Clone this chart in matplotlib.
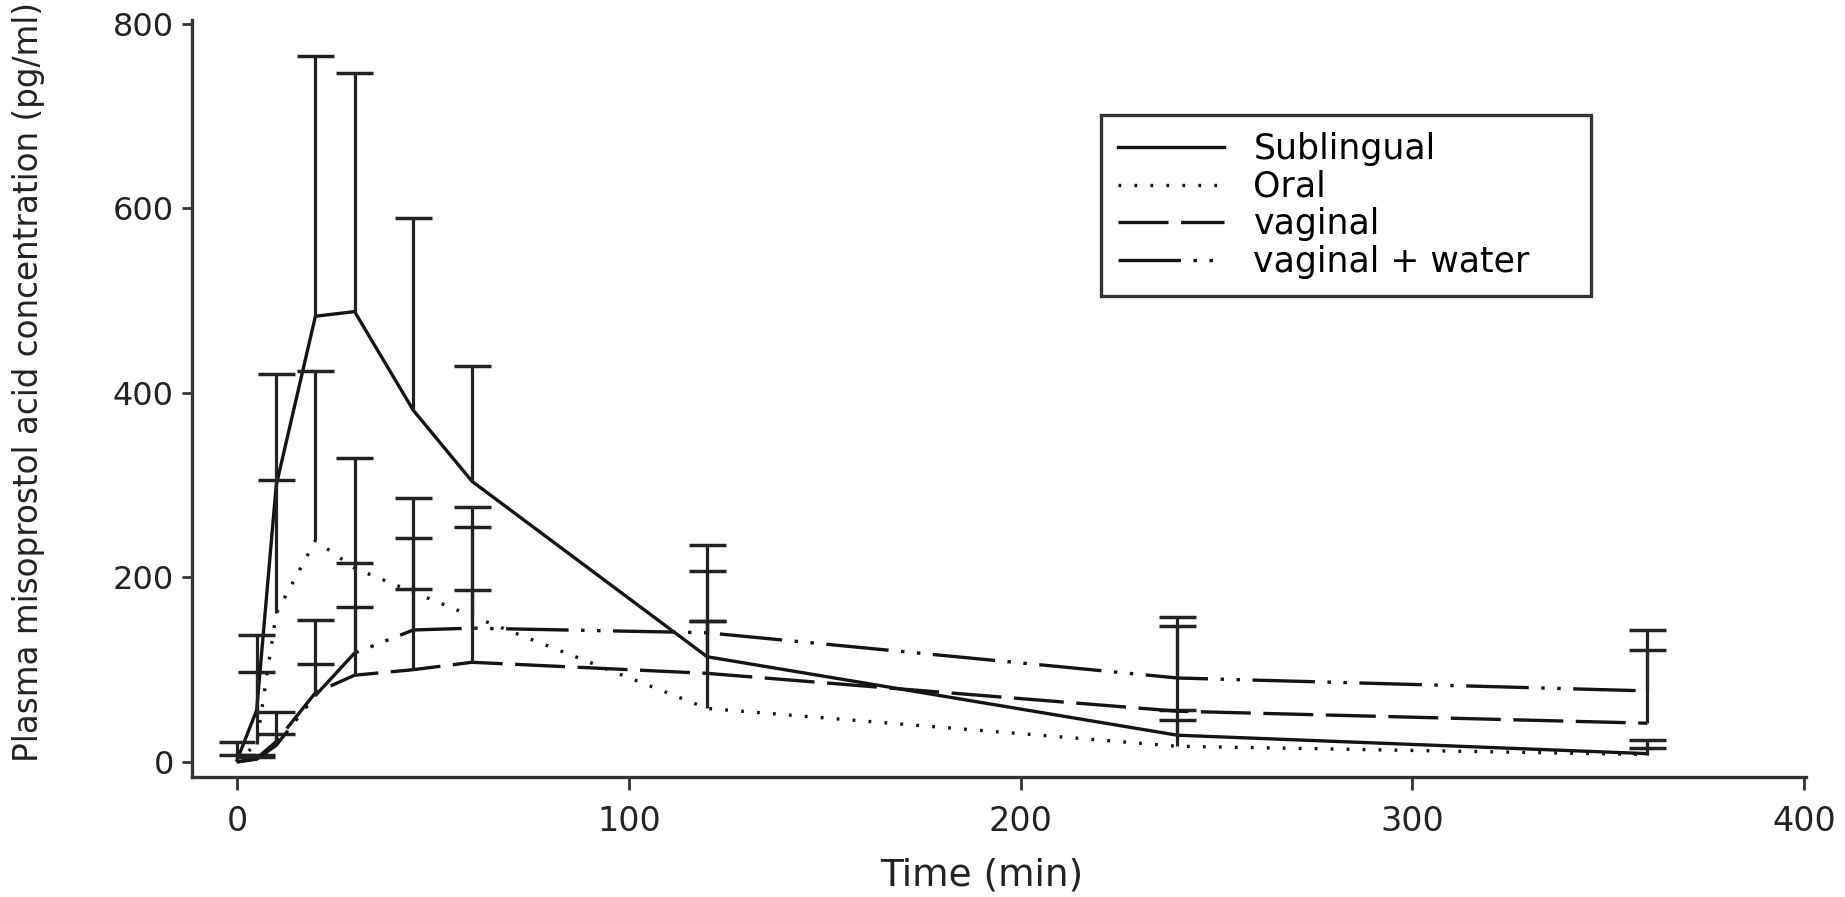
import numpy as np
import matplotlib
matplotlib.use("Agg")
import matplotlib.pyplot as plt

plt.rcParams['font.family'] = ['DejaVu Sans']
plt.rcParams['lines.scale_dashes'] = False

# sampling times (min)
times = [0, 5, 10, 20, 30, 45, 60, 120, 240, 360]

# mean plasma misoprostol acid (pg/ml) and mean + SD (top of error bar)
sublingual = [2, 56, 300, 483, 488, 381, 304, 114, 29, 9]
sublingual_top = [22, 138, 420, 765, 747, 589, 429, 207, 56, 24]
oral = [0, 20, 161, 240, 210, 184, 158, 58, 17, 8]
oral_top = [8, 98, 305, 424, 329, 286, 276, 153, 45, 15]
vaginal = [0, 4, 22, 75, 94, 100, 108, 96, 55, 42]
vaginal_top = [0, 8, 30, 106, 168, 187, 186, 153, 147, 121]
vag_water = [0, 3, 18, 72, 118, 143, 145, 140, 91, 77]
vag_water_top = [0, 5, 54, 154, 216, 243, 255, 235, 157, 143]

labels = ['Sublingual', 'Oral', 'vaginal', 'vaginal + water']
xticks = [0, 100, 200, 300, 400]
yticks = [0, 200, 400, 600, 800]

ink = '#141414'


def draw_bars(ax, t, mean, top):
    # upper error bars only (mean -> mean + SD)
    t = np.asarray(t, dtype=float)
    mean = np.asarray(mean, dtype=float)
    top = np.asarray(top, dtype=float)
    keep = top > mean
    cap = 4.7
    ax.vlines(t[keep], mean[keep], top[keep], colors='#222222', lw=2.3)
    ax.hlines(top[keep], t[keep] - cap, t[keep] + cap, colors='#222222', lw=2.5)


fig = plt.figure(figsize=(18.45, 8.97), dpi=100)
ax = fig.add_axes([0.10407, 0.13378, 0.8748, 0.84392])

styles = ['-', (0, (2, 9.5)), (0, (36, 9)), (0, (45, 9, 2.5, 9, 2.5, 9))]
means = [sublingual, oral, vaginal, vag_water]
tops = [sublingual_top, oral_top, vaginal_top, vag_water_top]

for m, top, ls, lab in zip(means, tops, styles, labels):
    ax.plot(times, m, color=ink, lw=2.4, linestyle=ls, label=lab)
    draw_bars(ax, times, m, top)

ax.set_xlim(-11.5, 400.5)
ax.set_ylim(-16.3, 804)
ax.set_xticks(xticks)
ax.set_yticks(yticks)

for s in ['top', 'right']:
    ax.spines[s].set_visible(False)
for s in ['left', 'bottom']:
    ax.spines[s].set_linewidth(2.4)
    ax.spines[s].set_color('#333333')

ax.tick_params(axis='y', direction='out', length=7, width=2, color='#333333',
               labelsize=23, pad=6, labelcolor='#222222')
ax.tick_params(axis='x', direction='out', length=9, width=2, color='#333333',
               labelsize=24, pad=11, labelcolor='#222222')

ax.set_xlabel('Time (min)', fontsize=27, color='#222222')
ax.xaxis.set_label_coords(0.489, -0.106)
ax.set_ylabel('Plasma misoprostol acid concentration (pg/ml)', fontsize=23.5,
              color='#222222')
ax.yaxis.set_label_coords(-0.091, 0.522)

leg = ax.legend(loc='upper left', bbox_to_anchor=(0.563, 0.642, 0.304, 0.2325),
                mode='expand', frameon=True, fancybox=False,
                edgecolor='#333333', framealpha=1, fontsize=25,
                handlelength=3.05, handletextpad=0.85, borderpad=0.5,
                labelspacing=0.1, borderaxespad=0)
leg.get_frame().set_linewidth(2.4)

fig.savefig('out.png', dpi=100)
